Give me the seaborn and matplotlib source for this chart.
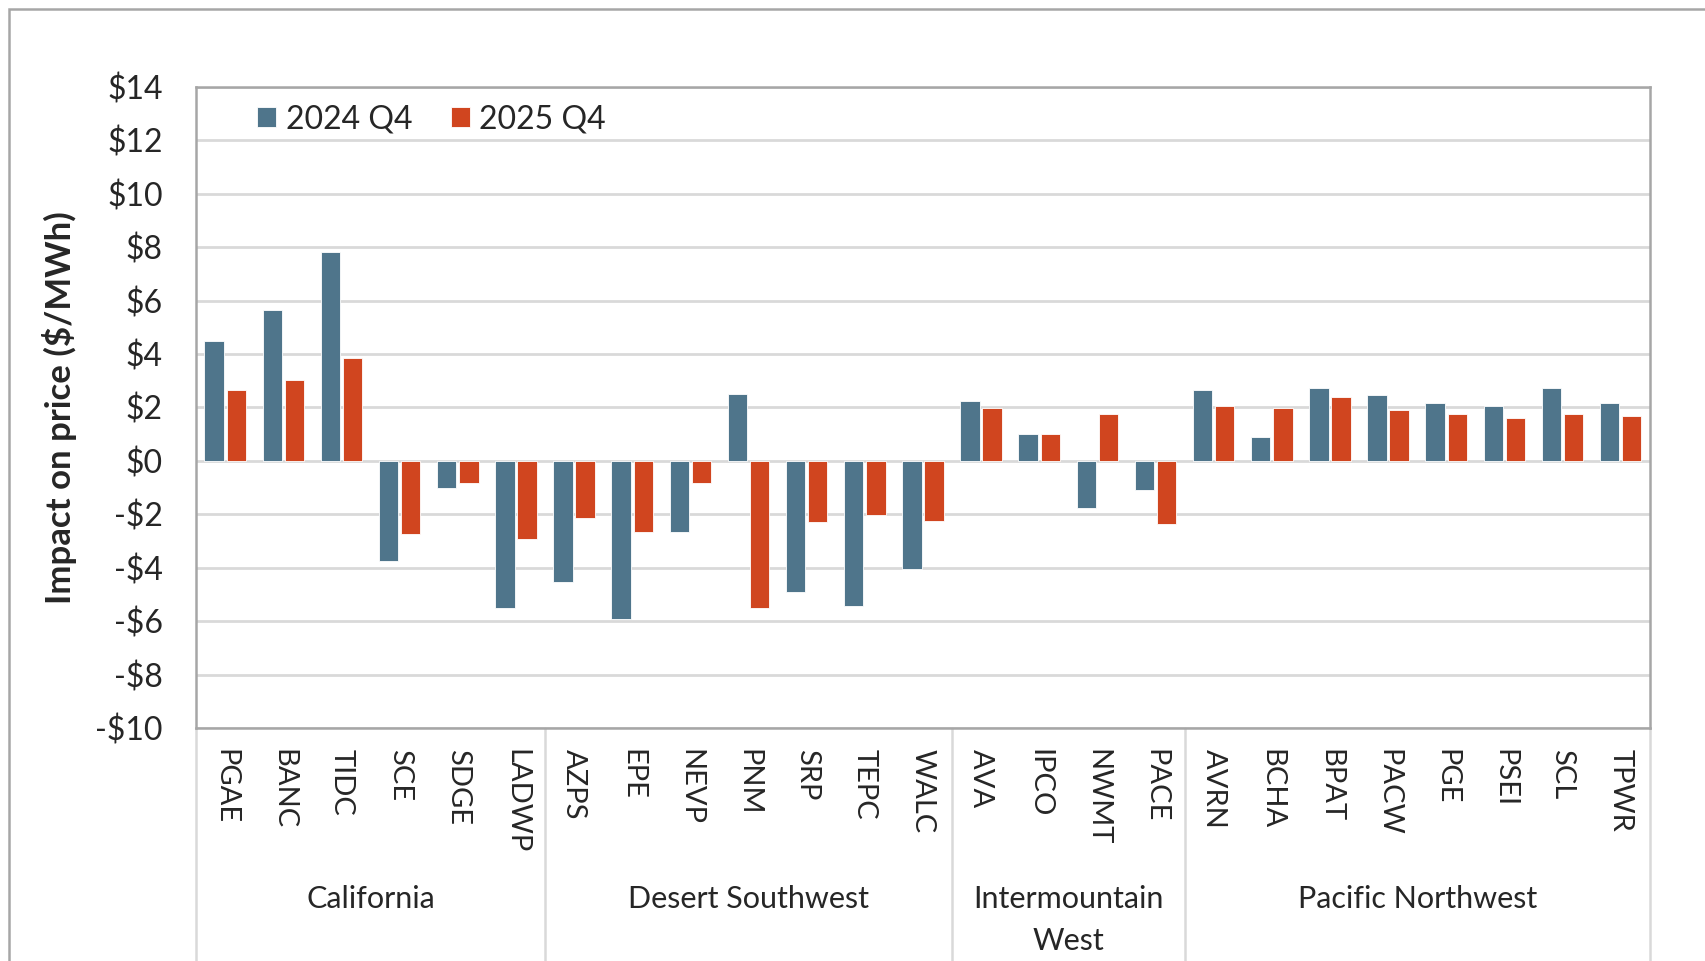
import pandas as pd
import matplotlib.pyplot as plt
import seaborn as sns
from matplotlib.patches import Rectangle
from matplotlib.lines import Line2D

# balancing areas, grouped by region
areas = ["PGAE", "BANC", "TIDC", "SCE", "SDGE", "LADWP",
         "AZPS", "EPE", "NEVP", "PNM", "SRP", "TEPC", "WALC",
         "AVA", "IPCO", "NWMT", "PACE",
         "AVRN", "BCHA", "BPAT", "PACW", "PGE", "PSEI", "SCL", "TPWR"]
regions = ["California", "Desert Southwest", "Intermountain\nWest", "Pacific Northwest"]
region_sizes = [6, 7, 4, 8]

q4_2024 = [4.5, 5.65, 7.82, -3.74, -1.0, -5.51,
           -4.55, -5.93, -2.65, 2.51, -4.91, -5.44, -4.03,
           2.24, 1.02, -1.78, -1.09,
           2.67, 0.88, 2.74, 2.45, 2.17, 2.05, 2.74, 2.17]
q4_2025 = [2.67, 3.02, 3.87, -2.72, -0.81, -2.91,
           -2.12, -2.65, -0.81, -5.51, -2.30, -2.03, -2.24,
           1.98, 1.02, 1.77, -2.38,
           2.05, 1.98, 2.38, 1.91, 1.77, 1.62, 1.77, 1.69]
periods = ["2024 Q4", "2025 Q4"]

df = pd.DataFrame({
    "area": areas * 2,
    "value": q4_2024 + q4_2025,
    "period": [periods[0]] * len(areas) + [periods[1]] * len(areas),
})

sns.set_style("white")
plt.rcParams["font.family"] = ["Lato", "DejaVu Sans"]

fig = plt.figure(figsize=(17.06, 9.61), dpi=100)
ax = fig.add_axes([0.115, 0.2425, 0.852, 0.667])

sns.barplot(data=df, x="area", y="value", hue="period", order=areas,
            palette=["#4F758B", "#D0451F"], saturation=1, width=0.76, gap=0.12,
            edgecolor="white", linewidth=0.6, ax=ax, zorder=3)

ax.set_xlim(-0.5, len(areas) - 0.5)
ax.set_ylim(-10, 14)
yt = list(range(-10, 15, 2))
ax.set_yticks(yt)
ax.set_yticklabels([f"${v}" if v >= 0 else f"-${-v}" for v in yt], fontsize=23)
ax.set_xticks(range(len(areas)))
ax.set_xticklabels(areas, rotation=270, fontsize=21, va="top", ha="center")
ax.tick_params(axis="x", length=0, pad=15)
ax.tick_params(axis="y", length=0, pad=24)
ax.set_xlabel("")
ax.set_ylabel("")

ax.set_axisbelow(True)
ax.yaxis.grid(True, color="#D9D9D9", linewidth=2)
for s in ax.spines.values():
    s.set_visible(True)
    s.set_color("#A6A6A6")
    s.set_linewidth(1.8)

# region separators and labels under the axis
trans = ax.get_xaxis_transform()
start = 0
bounds = [-0.5]
for name, n in zip(regions, region_sizes):
    ax.text(start + (n - 1) / 2, -0.245, name, transform=trans, ha="center", va="top",
            fontsize=22, linespacing=1.6)
    start += n
    bounds.append(start - 0.5)
for b in bounds:
    ax.add_line(Line2D([b, b], [0, -0.5], transform=trans, color="#D9D9D9",
                       linewidth=1.8, clip_on=False))

fig.text(60 / 1706, 1 - 408 / 961, "Impact on price ($/MWh)", rotation=90,
         ha="center", va="center", fontsize=25, fontweight="bold")

ax.legend(loc="upper left", bbox_to_anchor=(0.022, 1.018), frameon=False, ncol=2,
          fontsize=23, handlelength=0.6, handleheight=0.6, handletextpad=0.3,
          columnspacing=1.2)

# outer chart frame
fig.patches.append(Rectangle((9 / 1706, -0.2), 1.2, 1.2 - 9 / 961, transform=fig.transFigure,
                             fill=False, edgecolor="#A6A6A6", linewidth=1.8))

fig.savefig("out.png", dpi=100)
